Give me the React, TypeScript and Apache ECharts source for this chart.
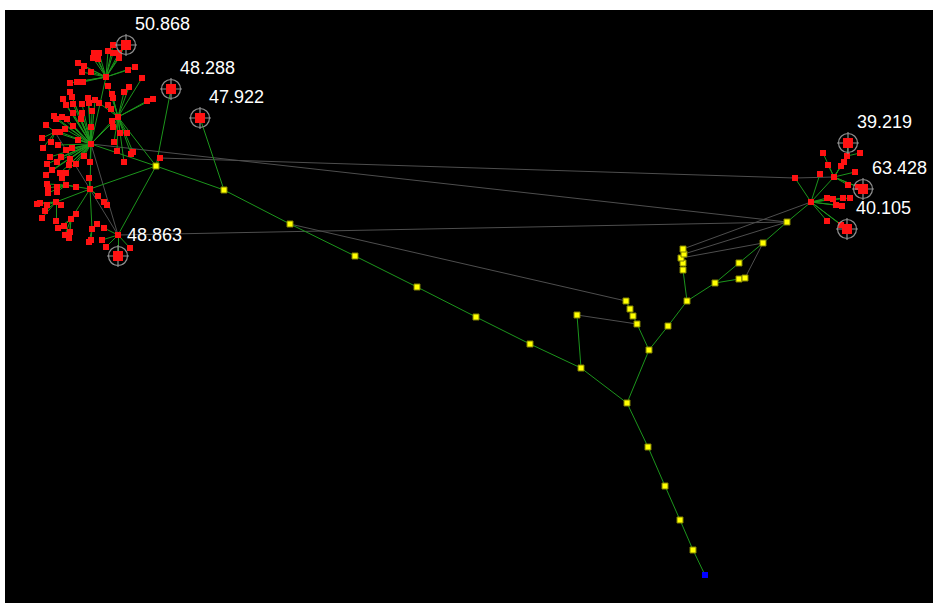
import React, { useEffect, useRef } from "react";
import * as echarts from "echarts";

// Node positions are given in screen-like units (x to the right, y downwards).

// Yellow relay nodes: [id, x, y]
const relayNodes: [string, number, number][] = [
  ["y1", 156, 166], ["y2", 224, 190], ["y3", 290, 224], ["y4", 355, 256],
  ["y5", 417, 287], ["y6", 476, 317], ["y7", 530, 344], ["y8", 581, 368],
  ["y9", 627, 403], ["y10", 648, 447], ["y11", 665, 486], ["y12", 680, 520],
  ["y13", 693, 550], ["y14", 577, 315], ["y15", 649, 350], ["y16", 637, 324],
  ["y17", 633, 316], ["y18", 630, 309], ["y19", 626, 301], ["y20", 668, 326],
  ["y21", 687, 301], ["y22", 683, 270], ["y23", 683, 263], ["y24", 681, 258],
  ["y25", 684, 254], ["y26", 683, 249], ["y27", 715, 283], ["y28", 739, 263],
  ["y29", 763, 243], ["y30", 787, 222], ["y31", 739, 279], ["y32", 745, 278],
];

// Root (blue) node
const rootNode: [string, number, number] = ["root", 705, 575];

// Red cluster centres: [id, x, y]
const hubNodes: [string, number, number][] = [
  ["Ha", 106, 77], ["Hb", 118, 117], ["Hc", 91, 144], ["S1", 55, 132],
  ["Hd", 90, 189], ["Hf", 66, 185], ["Hg", 56, 202], ["Hh", 71, 219],
  ["Hi", 92, 229], ["He", 118, 235], ["Pa", 160, 158],
  ["R", 811, 202], ["R2", 834, 177], ["Rk", 847, 156], ["Rw", 795, 178],
];

// Red leaf nodes: [parent, x, y]
const leafNodes: [string, number, number][] = [
  ["Ha", 94, 53], ["Ha", 99, 53], ["Ha", 93, 58], ["Ha", 98, 59], ["Ha", 78, 63],
  ["Ha", 84, 66], ["Ha", 82, 72], ["Ha", 91, 72], ["Ha", 108, 51], ["Ha", 113, 53],
  ["Ha", 113, 45], ["Ha", 119, 53], ["Ha", 119, 58], ["Ha", 128, 70], ["Ha", 135, 67],
  ["Ha", 70, 83], ["Ha", 77, 82], ["Ha", 83, 82],
  ["Hb", 108, 86], ["Hb", 112, 94], ["Hb", 113, 98], ["Hb", 124, 92], ["Hb", 129, 87],
  ["Hb", 142, 78], ["Hb", 147, 101], ["Hb", 153, 99], ["Hb", 99, 103], ["Hb", 108, 105],
  ["Hb", 111, 109], ["Hb", 113, 127], ["Hb", 120, 133], ["Hb", 127, 133], ["Hb", 114, 142],
  ["Hb", 117, 151], ["Hb", 131, 154], ["Hb", 133, 152], ["Hb", 124, 162],
  ["Hc", 88, 98], ["Hc", 95, 100], ["Hc", 89, 103], ["Hc", 82, 104], ["Hc", 73, 104],
  ["Hc", 66, 105], ["Hc", 63, 99], ["Hc", 70, 92], ["Hc", 72, 97], ["Hc", 54, 116],
  ["Hc", 56, 119], ["Hc", 62, 117], ["Hc", 67, 119], ["Hc", 73, 113], ["Hc", 82, 113],
  ["Hc", 81, 119], ["Hc", 92, 111], ["Hc", 60, 132], ["Hc", 65, 129], ["Hc", 73, 126],
  ["Hc", 91, 127], ["Hc", 58, 145], ["Hc", 72, 148], ["Hc", 50, 157], ["Hc", 61, 157],
  ["Hc", 70, 159], ["Hc", 47, 164], ["Hc", 57, 162], ["Hc", 76, 164], ["Hc", 52, 170],
  ["Hc", 60, 173], ["Hc", 66, 173], ["Hc", 69, 165], ["Hc", 90, 162], ["Hc", 46, 175],
  ["Hc", 112, 121], ["Hc", 78, 140], ["Hc", 66, 150], ["Hc", 84, 156],
  ["S1", 46, 125], ["S1", 42, 138], ["S1", 51, 142], ["S1", 43, 148],
  ["Hd", 89, 178], ["Hd", 104, 202], ["Hd", 107, 205], ["Hd", 98, 196],
  ["Hf", 47, 184], ["Hf", 48, 188], ["Hf", 57, 187], ["Hf", 76, 187], ["Hf", 48, 193],
  ["Hf", 57, 192], ["Hf", 62, 178],
  ["Hg", 37, 204], ["Hg", 40, 203], ["Hg", 47, 205], ["Hg", 61, 205], ["Hg", 42, 218],
  ["Hg", 56, 221], ["Hg", 45, 211],
  ["Hh", 58, 228], ["Hh", 64, 226], ["Hh", 65, 235], ["Hh", 69, 238], ["Hh", 70, 232],
  ["Hh", 76, 214],
  ["Hi", 89, 242], ["Hi", 91, 240], ["Hi", 97, 224],
  ["He", 104, 228], ["He", 102, 240], ["He", 106, 247], ["He", 130, 248],
  ["R", 820, 174], ["R", 827, 198], ["R", 833, 199], ["R", 843, 198], ["R", 850, 198],
  ["R", 836, 205], ["R", 842, 206], ["R", 827, 221], ["R", 841, 225],
  ["R2", 823, 153], ["R2", 828, 165], ["R2", 841, 166], ["R2", 844, 162], ["R2", 855, 172],
  ["R2", 848, 185], ["R2", 858, 187],
  ["Rk", 860, 153],
];

// Marked nodes with their values: [id, x, y, value]
const markedNodes: [string, number, number, number][] = [
  ["B1", 126, 45, 50.868],
  ["B2", 171, 89, 48.288],
  ["B3", 200, 118, 47.922],
  ["B4", 118, 256, 48.863],
  ["B5", 848, 143, 39.219],
  ["B6", 863, 189, 63.428],
  ["B7", 847, 229, 40.105],
];

// Tree links (green)
const treeLinks: [string, string][] = [
  ["root", "y13"], ["y13", "y12"], ["y12", "y11"], ["y11", "y10"], ["y10", "y9"],
  ["y9", "y8"], ["y8", "y7"], ["y7", "y6"], ["y6", "y5"], ["y5", "y4"], ["y4", "y3"],
  ["y3", "y2"], ["y2", "y1"], ["y8", "y14"], ["y9", "y15"], ["y15", "y16"],
  ["y16", "y17"], ["y17", "y18"], ["y18", "y19"], ["y15", "y20"], ["y20", "y21"],
  ["y21", "y22"], ["y22", "y23"], ["y23", "y24"], ["y24", "y25"], ["y25", "y26"],
  ["y21", "y27"], ["y27", "y28"], ["y28", "y29"], ["y29", "y30"], ["y30", "R"],
  ["y27", "y31"], ["y31", "y32"],
  ["Ha", "Hc"], ["Hb", "Hc"], ["Hb", "y1"], ["Hc", "y1"], ["Hd", "y1"], ["He", "y1"],
  ["Hd", "Hc"], ["S1", "Hc"], ["Hf", "Hd"], ["Hg", "Hd"], ["Hh", "Hd"], ["Hi", "Hd"],
  ["Pa", "y1"], ["B1", "Ha"], ["B2", "y1"], ["B3", "y2"], ["B4", "He"],
  ["Rw", "R"], ["R2", "R"], ["Rk", "R2"], ["B5", "Rk"], ["B6", "R2"], ["B7", "R"],
];

// Cross links (grey)
const crossLinks: [string, string][] = [
  ["y14", "y16"], ["y3", "y19"], ["y26", "R"], ["y25", "y30"], ["y24", "y29"],
  ["y32", "y29"], ["Hc", "y30"], ["Pa", "Rw"], ["He", "y30"], ["S1", "He"],
  ["Hc", "He"], ["Rw", "R2"],
];

const RED = "#ff1212";
const YELLOW = "#ffff00";
const GREEN = "#1c951c";
const GREY = "#4e4e4e";

const RING_PATH =
  "path://M-9.5 0A9.5 9.5 0 1 1 9.5 0A9.5 9.5 0 1 1 -9.5 0Z" +
  "M0 -11L0 -5M0 11L0 5M-11 0L-5 0M11 0L5 0";

export default function App() {
  const ref = useRef<HTMLDivElement>(null);

  useEffect(() => {
    if (!ref.current) return;
    const chart = echarts.init(ref.current, undefined, { renderer: "svg" });

    const nodes: any[] = [];
    const links: any[] = [];
    const xs: number[] = [];
    const ys: number[] = [];
    const add = (node: any) => {
      nodes.push(node);
      xs.push(node.x);
      ys.push(node.y);
    };

    let leafIndex = 0;
    leafNodes.forEach(([parent, x, y]) => {
      const name = "n" + leafIndex++;
      add({ name, x, y, symbol: "rect", symbolSize: 6, itemStyle: { color: RED } });
      links.push({ source: parent, target: name, lineStyle: { color: GREEN } });
    });
    hubNodes.forEach(([name, x, y]) =>
      add({ name, x, y, symbol: "rect", symbolSize: 6, itemStyle: { color: RED } })
    );
    relayNodes.forEach(([name, x, y]) =>
      add({
        name, x, y, symbol: "rect", symbolSize: 6,
        itemStyle: { color: YELLOW, borderColor: "#7f7f00", borderWidth: 1 },
      })
    );
    add({
      name: rootNode[0], x: rootNode[1], y: rootNode[2], symbol: "rect", symbolSize: 6,
      itemStyle: { color: "#0000ff" },
    });
    markedNodes.forEach(([name, x, y, value]) => {
      add({
        name, x, y, value, symbol: "rect", symbolSize: 10,
        itemStyle: { color: RED },
        label: {
          show: true,
          position: "right",
          distance: 4,
          offset: [0, -21],
          formatter: () => value.toFixed(3),
          color: "#ffffff",
          fontSize: 18,
          fontFamily: "Arial, 'Liberation Sans', sans-serif",
        },
      });
      add({
        name: "ring-" + name, x, y, symbol: RING_PATH, symbolSize: 22,
        itemStyle: { color: "rgba(0,0,0,0)", borderColor: "#8f8f8f", borderWidth: 1.2 },
      });
    });

    const allLinks = [
      ...crossLinks.map(([s, t]) => ({ source: s, target: t, lineStyle: { color: GREY } })),
      ...treeLinks.map(([s, t]) => ({ source: s, target: t, lineStyle: { color: GREEN } })),
      ...links,
    ];

    const minX = Math.min(...xs);
    const maxX = Math.max(...xs);
    const minY = Math.min(...ys);
    const maxY = Math.max(...ys);
    // the chart box sits 5px right and 10px down from the page origin
    const originX = 5;
    const originY = 10;

    chart.setOption({
      animation: false,
      backgroundColor: "#000000",
      series: [
        {
          type: "graph",
          layout: "none",
          roam: false,
          left: minX - originX,
          top: minY - originY,
          width: maxX - minX,
          height: maxY - minY,
          emphasis: { disabled: true },
          edgeSymbol: ["none", "none"],
          lineStyle: { width: 1, opacity: 1, curveness: 0 },
          label: { show: false },
          data: nodes,
          links: allLinks,
        },
      ],
    });

    return () => chart.dispose();
  }, []);

  return (
    <div
      ref={ref}
      style={{ position: "fixed", left: 5, top: 10, width: 928, height: 593 }}
    />
  );
}
